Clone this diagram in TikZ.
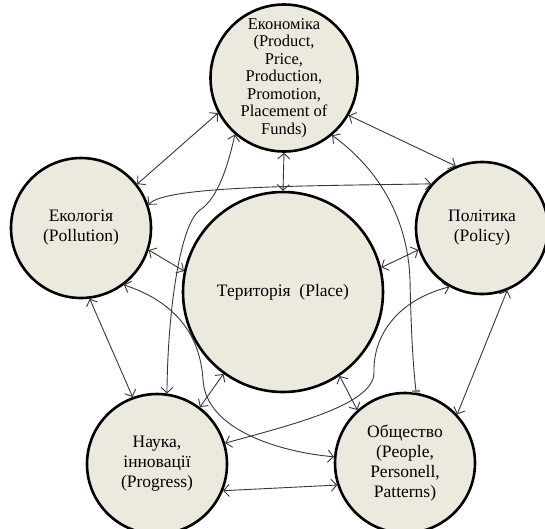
\documentclass[tikz,border=0pt]{standalone}
\usepackage{fontspec}
\setmainfont{Liberation Serif}
\usetikzlibrary{arrows.meta}

\definecolor{circfill}{RGB}{236,233,223}
\definecolor{linkgray}{RGB}{55,55,55}

\tikzset{
  factor/.style={circle, draw=black, line width=2.6pt, fill=circfill,
    inner sep=0pt, align=center, font=\fontsize{17.5}{20}\selectfont},
  link/.style={draw=linkgray, line width=0.9pt, {Straight Barb[length=5.5pt,width=12pt]}-{Straight Barb[length=5.5pt,width=12pt]}},
}

\begin{document}
\begin{tikzpicture}[x=1pt,y=-1pt]
  \useasboundingbox (0,0) rectangle (545,528);

  % the six factors
  \node[factor, minimum size=146pt, font=\fontsize{16.5}{17.5}\selectfont] (eco) at (284,78)
    {Економіка\\(Product,\\Price,\\Production,\\Promotion,\\Placement of\\Funds)};
  \node[factor, minimum size=140pt] (ecol) at (81,228) {Екологія\\(Pollution)};
  \node[factor, minimum size=132pt] (pol) at (482,228) {Політика\\(Policy)};
  \node[factor, minimum size=200pt] (ter) at (283,292) {Територія\ \ (Place)};
  \node[factor, minimum size=140pt] (sci) at (157,464) {Наука,\\інновації\\(Progress)};
  \node[factor, minimum size=140pt] (soc) at (405,463) {Общество\\(People,\\Personell,\\Patterns)};

  % straight links
  \draw[link] (eco.208) -- (ecol.38);
  \draw[link] (eco.330) -- (pol.113);
  \draw[link] (eco.south) -- (ter.north);
  \draw[link] (ecol.-18) -- (ter.168);
  \draw[link] (ecol.-83) -- (sci.110);
  \draw[link] (ter.14) -- (pol.199);
  \draw[link] (pol.292) -- (soc.43);
  \draw[link] (sci.53) -- (ter.234);
  \draw[link] (soc.132) -- (ter.-56);
  \draw[link] (sci.-22) -- (soc.198);

  % curved links
  \draw[link] (pol.139) .. controls (300,186) and (165,186) .. (ecol.19);
  \draw[link] (eco.229) .. controls (226,175) and (215,200) .. (200,210)
    .. controls (182,222) and (168,300) .. (sci.82);
  \draw[link] (ecol.-53) .. controls (170,300) and (200,330) .. (203,380)
    .. controls (206,430) and (280,452) .. (soc.175);
  \draw[link] (pol.241) .. controls (398,300) and (373,335) .. (374,372)
    .. controls (375,405) and (290,425) .. (sci.17);
  \draw[draw=linkgray, line width=0.9pt,
        {Straight Barb[length=5.5pt,width=12pt]}-{Bar[width=8pt,line width=2.5pt,color=gray]}]
    (eco.-50) .. controls (380,170) and (408,220) .. (410,280)
    .. controls (411,330) and (413,365) .. (soc.81);
\end{tikzpicture}
\end{document}
